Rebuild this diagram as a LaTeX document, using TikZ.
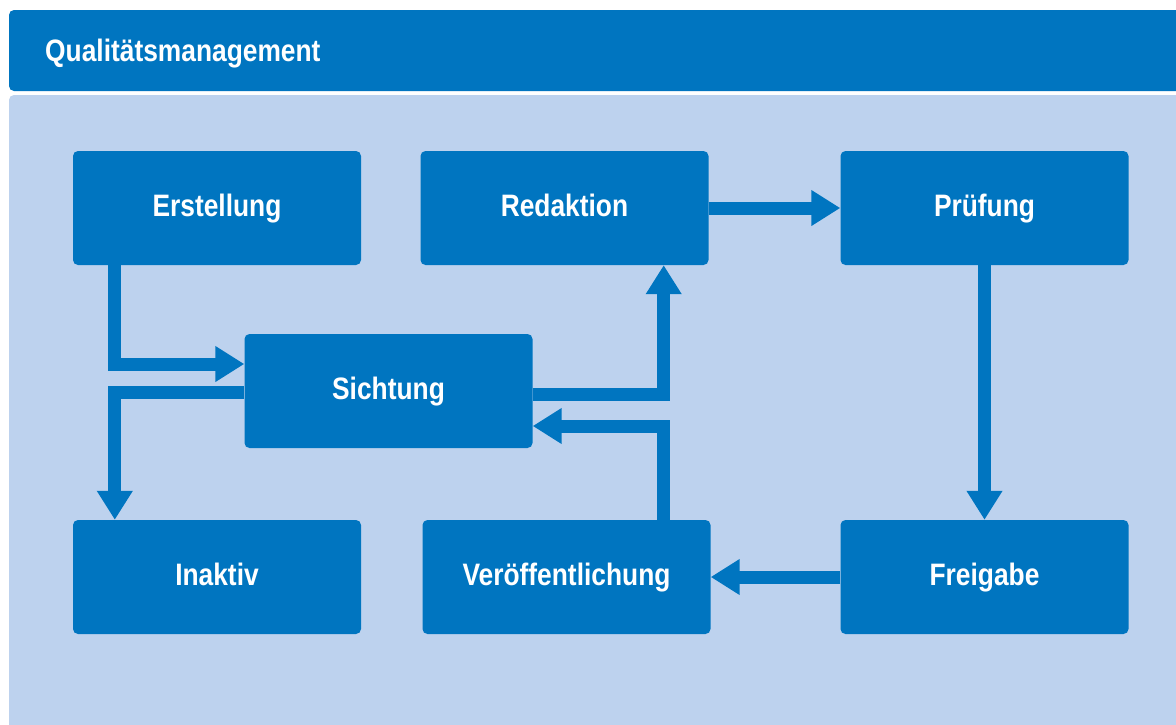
\documentclass[tikz,border=0pt]{standalone}
\usepackage{fontspec}
\usepackage{xcolor}
\usepackage{tikz}
\usetikzlibrary{arrows.meta}

\newfontfamily\qmfont{Liberation Sans}[FakeStretch=0.85]
\definecolor{qmdark}{HTML}{0075C0}
\definecolor{qmlight}{HTML}{BDD2EE}

\tikzset{
  stage/.style={fill=qmdark, rounded corners=5pt, minimum width=288pt, minimum height=114pt,
    inner sep=0pt, text height=19pt, text depth=3pt, text=white,
    font=\qmfont\bfseries\fontsize{31}{36}\selectfont},
  flow/.style={draw=qmdark, line width=13pt, -{Triangle[length=29pt,width=34pt]}}
}

\begin{document}
\begin{tikzpicture}[x=1pt,y=-1pt]
  \useasboundingbox (0,0) rectangle (1176,724);
  \fill[white] (0,0) rectangle (1176,724);
  % title bar and panel
  \fill[qmdark, rounded corners=5pt] (9,10) rectangle (1200,91);
  \fill[qmlight, rounded corners=5pt] (9,95) rectangle (1200,760);
  \node[anchor=base west, inner sep=0pt, text=white, font=\qmfont\bfseries\fontsize{31}{36}\selectfont] (titel) at (45,61) {Qualitätsmanagement};

  % stages
  \node[stage] (erst) at (217,208) {Erstellung};
  \node[stage] (redak) at (564.5,208) {Redaktion};
  \node[stage] (pruef) at (984.5,208) {Prüfung};
  \node[stage] (sicht) at (388.5,391) {Sichtung};
  \node[stage] (inak) at (217,577) {Inaktiv};
  \node[stage] (veroe) at (566.5,577) {Veröffentlichung};
  \node[stage] (frei) at (984.5,577) {Freigabe};

  % flows
  \draw[flow] ([xshift=42pt]erst.south west) |- ([yshift=27pt]sicht.west);
  \draw[flow] ([yshift=-1pt]sicht.west) -| ([xshift=42pt]inak.north west);
  \draw[flow] ([yshift=-3pt]sicht.east) -| ([xshift=-45pt]redak.south east);
  \draw[flow] ([xshift=-47pt]veroe.north east) |- ([yshift=-35pt]sicht.east);
  \draw[flow] (redak.east) -- (pruef.west);
  \draw[flow] (pruef.south) -- (frei.north);
  \draw[flow] (frei.west) -- (veroe.east);
\end{tikzpicture}
\end{document}
